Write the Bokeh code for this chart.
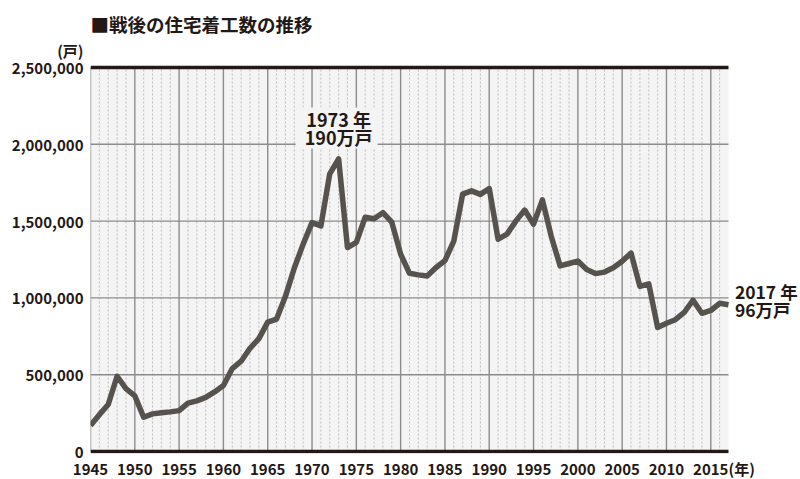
from bokeh.plotting import figure
from bokeh.models import (Range1d, FixedTicker, NumeralTickFormatter, Label,
                          BoxAnnotation, ColumnDataSource)
from bokeh.embed import file_html
from bokeh.resources import INLINE

years = list(range(1945, 2018))
starts = [170000, 240000, 306000, 490000, 410000, 362000, 223000, 245000, 252000, 258000,
          266000, 315000, 330000, 352000, 388000, 430000, 540000, 588000, 672000, 735000,
          842000, 862000, 1010000, 1195000, 1350000, 1490000, 1468000, 1808000, 1905000, 1328000,
          1362000, 1525000, 1515000, 1555000, 1493000, 1285000, 1160000, 1150000, 1143000, 1198000,
          1243000, 1370000, 1676000, 1697000, 1674000, 1712000, 1382000, 1415000, 1500000, 1572000,
          1480000, 1638000, 1400000, 1208000, 1224000, 1240000, 1185000, 1158000, 1168000, 1196000,
          1238000, 1292000, 1075000, 1092000, 808000, 835000, 858000, 905000, 985000, 900000,
          918000, 965000, 955000]
x_ticks = list(range(1945, 2016, 5))
y_ticks = [0, 500000, 1000000, 1500000, 2000000, 2500000]

title_text = "■戦後の住宅着工数の推移"
x_unit = "(年)"
y_unit = "(戸)"
peak_text = ["1973 年", "190万戸"]
last_text = ["2017 年", "96万戸"]

FONT = "Noto Sans CJK JP"
TXT = "#231815"
BG = "#f3f4f3"
GRID = "#8c8c8c"

X0, X1 = years[0], years[-1]
Y0, Y1 = y_ticks[0], y_ticks[-1]
PW, PH = 638, 384                       # plot-area size in px
PXY = PW / (X1 - X0)                    # px per year
PXV = PH / (Y1 - Y0)                    # px per value unit

# frame is larger than the plot area so that outside texts are not clipped
LEFT, TOP, BOTTOM_EXT, RIGHT_EXT = 90, 3, 2, 72
frame_w = PW + RIGHT_EXT
frame_h = (451 - TOP) + BOTTOM_EXT
x_end = X1 + RIGHT_EXT / PXY
y_start = Y0 - BOTTOM_EXT / PXV
y_end = Y0 + (451 - TOP) / PXV

p = figure(frame_width=frame_w, frame_height=frame_h, output_backend="svg", toolbar_location=None,
           x_range=Range1d(X0, x_end), y_range=Range1d(y_start, y_end),
           min_border_left=LEFT, min_border_right=0, min_border_top=TOP, min_border_bottom=0)
p.outline_line_color = None
p.background_fill_color = "white"
p.border_fill_color = "white"
p.xgrid.visible = False
p.ygrid.visible = False

# plot-area background
p.add_layout(BoxAnnotation(left=X0, right=X1, bottom=Y0, top=Y1, fill_color=BG, fill_alpha=1,
                           line_color=None, level="image"))

# grid lines drawn as segments through the data scales
minor_years = [y for y in years if y not in x_ticks and y != X1]
p.segment(x0=minor_years, x1=minor_years, y0=[Y0] * len(minor_years), y1=[Y1] * len(minor_years),
          line_color="#bcbcbc", line_width=1, line_dash="2 2")
p.segment(x0=x_ticks, x1=x_ticks, y0=[Y0] * len(x_ticks), y1=[Y1] * len(x_ticks),
          line_color=GRID, line_width=1.4)
inner_y = y_ticks[1:-1]
p.segment(x0=[X0] * len(inner_y), x1=[X1] * len(inner_y), y0=inner_y, y1=inner_y,
          line_color=GRID, line_width=1.4)
p.segment(x0=[X0, X0], x1=[X1, X1], y0=[Y0, Y1], y1=[Y0, Y1], line_color=TXT, line_width=3.5)

# axes
x_unit_pos = X1 + 1.5
p.xaxis.ticker = FixedTicker(ticks=x_ticks + [x_unit_pos])
p.xaxis.major_label_overrides = {x_unit_pos: x_unit}
p.xaxis.axis_line_color = None
p.xaxis.major_tick_line_color = None
p.xaxis.minor_tick_line_color = None
p.xaxis.major_tick_out = 0
p.xaxis.major_tick_in = 0
p.xaxis.minor_tick_out = 0
p.xaxis.minor_tick_in = 0
p.xaxis.major_label_standoff = 4
p.xaxis.major_label_text_font = FONT
p.xaxis.major_label_text_font_style = "bold"
p.xaxis.major_label_text_font_size = "15px"
p.xaxis.major_label_text_color = TXT

y_unit_pos = Y1 + 17 / PXV
p.yaxis.ticker = FixedTicker(ticks=y_ticks + [y_unit_pos])
p.yaxis.formatter = NumeralTickFormatter(format="0,0")
p.yaxis.major_label_overrides = {y_unit_pos: y_unit}
p.yaxis.axis_line_color = None
p.yaxis.major_tick_line_color = None
p.yaxis.minor_tick_line_color = None
p.yaxis.major_label_standoff = 1
p.yaxis.major_label_text_font = FONT
p.yaxis.major_label_text_font_style = "bold"
p.yaxis.major_label_text_font_size = "15px"
p.yaxis.major_label_text_color = TXT

# data line
src = ColumnDataSource(dict(x=years, y=starts))
p.line("x", "y", source=src, line_color="#56524e", line_width=5.5, line_join="round")

def label(x, y, text, size, align="left"):
    p.add_layout(Label(x=x, y=y, text=text, text_align=align, text_baseline="middle",
                       text_font=FONT, text_font_style="bold", text_font_size=size,
                       text_color=TXT))

# peak annotation
pk = starts.index(max(starts))
px, py = years[pk], starts[pk]
p.add_layout(BoxAnnotation(left=px - 4.85, right=px + 4.4, bottom=py + 68000, top=py + 335000,
                           fill_color=BG, fill_alpha=1, line_color=None))
label(px, py + 262000, peak_text[0], "18px", "center")
label(px, py + 145000, peak_text[1], "18px", "center")

# last-value annotation
lx, ly = years[-1], starts[-1]
label(lx + 0.72, ly + 88000, last_text[0], "17.5px")
label(lx + 0.72, ly - 30000, last_text[1], "17.5px")

# title
label(X0, Y1 + 44 / PXV, title_text, "18.5px")

open("out.html", "w").write(file_html(p, INLINE))
